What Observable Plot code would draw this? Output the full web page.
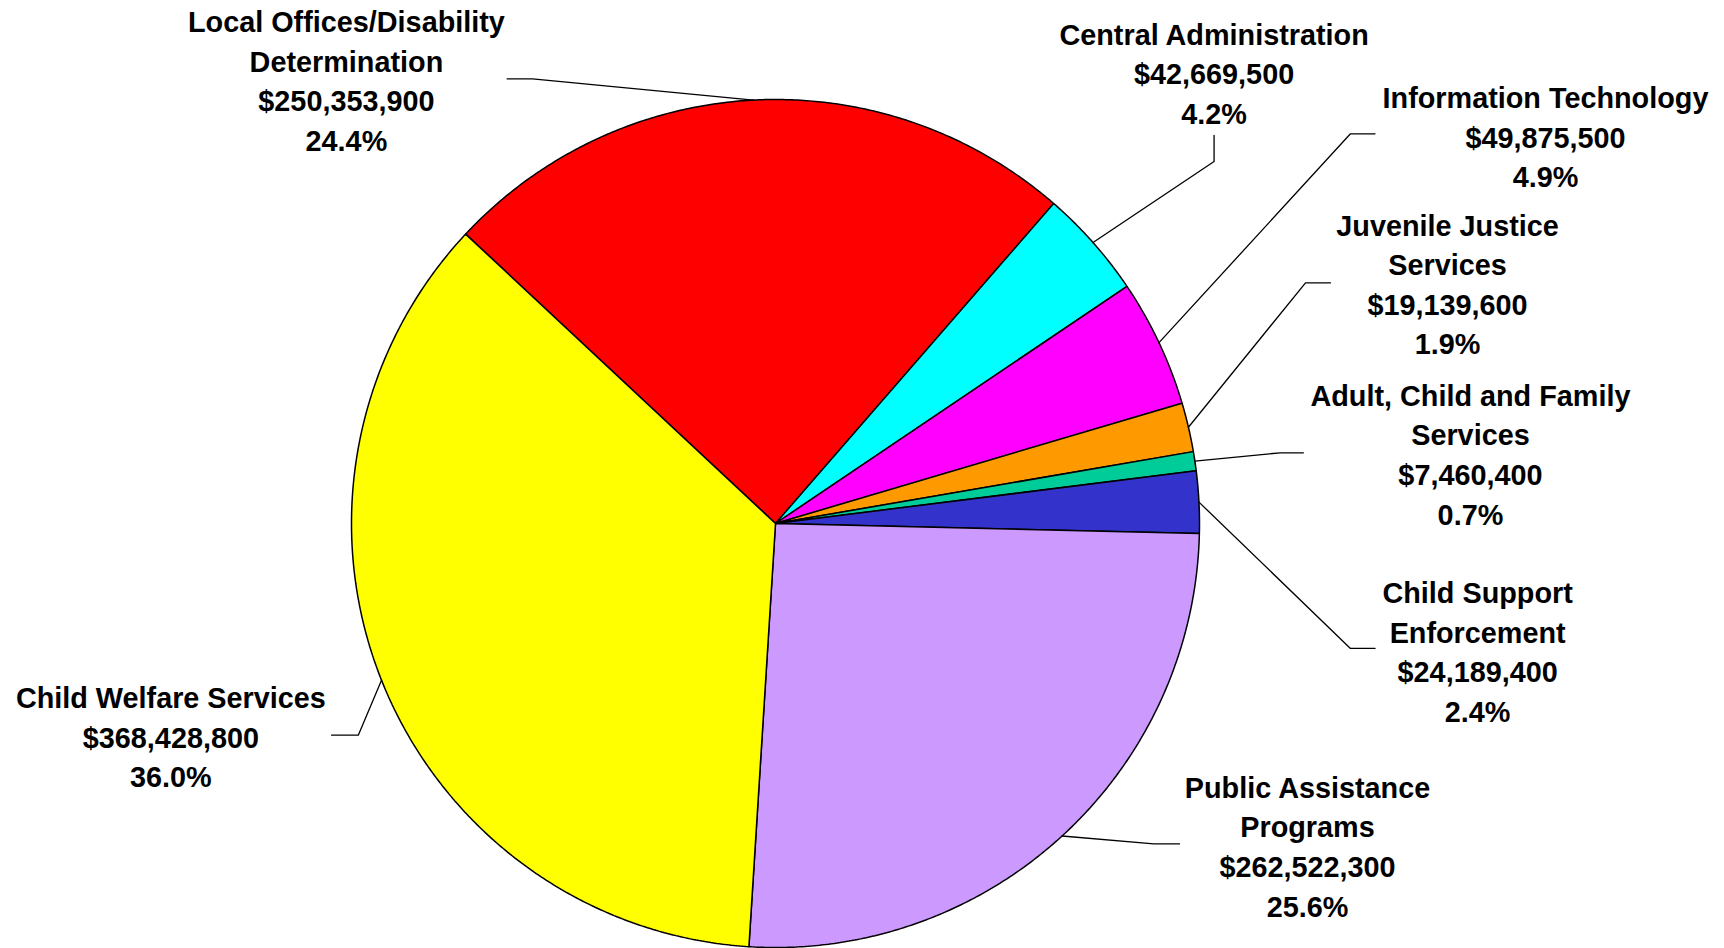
<!DOCTYPE html>
<html><head><meta charset="utf-8">
<script src="https://cdn.jsdelivr.net/npm/d3@7"></script>
<script src="https://cdn.jsdelivr.net/npm/@observablehq/plot@0.6"></script>
<style>body{margin:0;background:#fff} svg{display:block}</style>
</head><body><div id="chart"></div>
<script>
// ---- data ----
const categories = [
  "Local Offices/Disability\nDetermination",
  "Central Administration",
  "Information Technology",
  "Juvenile Justice\nServices",
  "Adult, Child and Family\nServices",
  "Child Support\nEnforcement",
  "Public Assistance\nPrograms",
  "Child Welfare Services"
];
const amounts = [250353900, 42669500, 49875500, 19139600, 7460400, 24189400, 262522300, 368428800];
const colors = ["#FF0000", "#00FFFF", "#FF00FF", "#FF9900", "#00CC99", "#3333CC", "#CC99FF", "#FFFF00"];

// ---- layout (pie radius = 1 unit, y up) ----
const W = 1724, H = 948, R = 424, CX = 775, CY = 523;
const startDeg = 313.04;
const lineStep = 39.6 / R;
const labelLayout = [
  {elbow: [-0.573, 1.0488], end: [-0.633, 1.0488], text: [-1.012, 1.1843]},
  {elbow: [1.0344, 0.8538], end: [1.0344, 0.9153], text: [1.0344, 1.1543]},
  {elbow: [1.356, 0.9191], end: [1.414, 0.9191], text: [1.816, 1.0053]},
  {elbow: [1.25, 0.5677], end: [1.309, 0.5677], text: [1.585, 0.7040]},
  {elbow: [1.190, 0.1668], end: [1.245, 0.1668], text: [1.639, 0.3026]},
  {elbow: [1.356, -0.2947], end: [1.414, -0.2947], text: [1.656, -0.1622]},
  {elbow: [0.892, -0.7554], end: [0.953, -0.7554], text: [1.2547, -0.6217]},
  {elbow: [-0.984, -0.4993], end: [-1.047, -0.4993], text: [-1.426, -0.4104]}
];

// ---- derived geometry ----
const total = d3.sum(amounts);
const rad = d => d * Math.PI / 180;
const polar = (deg, r = 1) => [r * Math.sin(rad(deg)), r * Math.cos(rad(deg))];
let acc = 0;
const slices = categories.map((name, i) => {
  const a0 = startDeg + acc / total * 360;
  acc += amounts[i];
  const a1 = startDeg + acc / total * 360;
  return {name, a0, a1, mid: (a0 + a1) / 2, value: amounts[i]};
});
const piePts = slices.flatMap(s => {
  const n = Math.max(2, Math.ceil((s.a1 - s.a0) / 0.4));
  const pts = [{name: s.name, x: 0, y: 0}];
  for (let k = 0; k <= n; k++) {
    const [x, y] = polar(s.a0 + (s.a1 - s.a0) * k / n);
    pts.push({name: s.name, x, y});
  }
  return pts;
});
const leaderPts = slices.flatMap((s, i) => {
  const L = labelLayout[i];
  const [px, py] = polar(s.mid, 1);
  return [
    {name: s.name, x: px, y: py},
    {name: s.name, x: L.elbow[0], y: L.elbow[1]},
    {name: s.name, x: L.end[0], y: L.end[1]}
  ];
});
const fmtAmt = d3.format("$,");
const fmtPct = d3.format(".1%");
const labels = slices.map((s, i) => {
  const lines = s.name.split("\n").concat([fmtAmt(s.value), fmtPct(s.value / total)]);
  const n = lines.length;
  const L = labelLayout[i];
  return {text: lines.join("\n"), x: L.text[0], y: L.text[1] - (n - 1) / 2 * lineStep};
});

const chart = Plot.plot({
  width: W,
  height: H,
  margin: 0,
  x: {domain: [-CX / R, (W - CX) / R], axis: null},
  y: {domain: [-(H - CY) / R, CY / R], axis: null},
  color: {domain: categories, range: colors},
  style: {background: "#fff"},
  marks: [
    Plot.line(piePts, {x: "x", y: "y", z: "name", fill: "name", stroke: "black", strokeWidth: 1.5, strokeLinejoin: "miter", curve: "linear-closed"}),
    Plot.line(leaderPts, {x: "x", y: "y", z: "name", stroke: "black", strokeWidth: 1.3}),
    Plot.text(labels, {
      x: "x", y: "y", text: "text",
      fontSize: 28.8, fontWeight: "bold",
      fontFamily: "'Liberation Sans', Arial, sans-serif",
      lineHeight: 1.375, lineAnchor: "middle", textAnchor: "middle",
      fill: "black", dy: -2
    })
  ]
});
document.getElementById("chart").append(chart);
</script>
</body></html>
